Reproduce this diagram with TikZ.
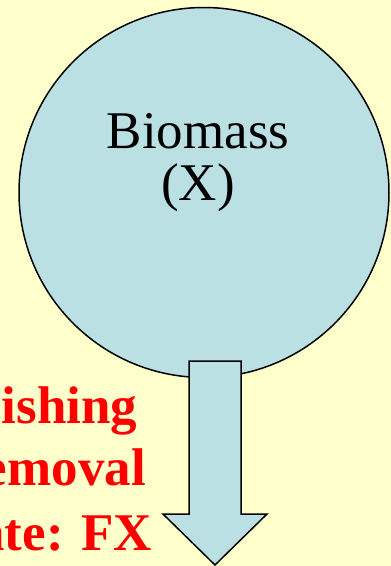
\documentclass[tikz,border=0pt]{standalone}
\usepackage{fontspec}
\setmainfont{Liberation Serif}
\definecolor{bgyellow}{HTML}{FFFFCC}
\definecolor{poolblue}{HTML}{BBE0E3}
\definecolor{flowred}{HTML}{FF0000}
\begin{document}
\begin{tikzpicture}[x=1pt,y=-1pt,
  pool/.style={circle,draw=black,line width=1.5pt,fill=poolblue,minimum size=370pt,inner sep=0pt},
  pooltext/.style={font=\fontsize{53}{53}\selectfont,text=black,anchor=base,inner sep=0pt},
  flowtext/.style={font=\fontsize{53}{53}\selectfont\bfseries,text=flowred,anchor=base,inner sep=0pt},
  blockarrow/.style={draw=black,line width=1.5pt,fill=poolblue,line join=miter}]
\fill[bgyellow] (0,0) rectangle (391,566);
\useasboundingbox (0,0) rectangle (391,566);
\clip (0,0) rectangle (391,566);
\node[pool] (biomass) at (204,192.5) {};
\node[pooltext] (bio1) at (198,148) {Biomass};
\node[pooltext] (bio2) at (198,200) {(X)};
\draw[blockarrow] (189,361) -- (241,361) -- (241,514) -- (267,514) -- (215,565) -- (163,514) -- (189,514) -- cycle;
\node[flowtext] (f1) at (53.5,423) {Fishing};
\node[flowtext] (f2) at (53.5,485) {removal};
\node[flowtext] (f3) at (53.5,550) {rate: FX};
\end{tikzpicture}
\end{document}
